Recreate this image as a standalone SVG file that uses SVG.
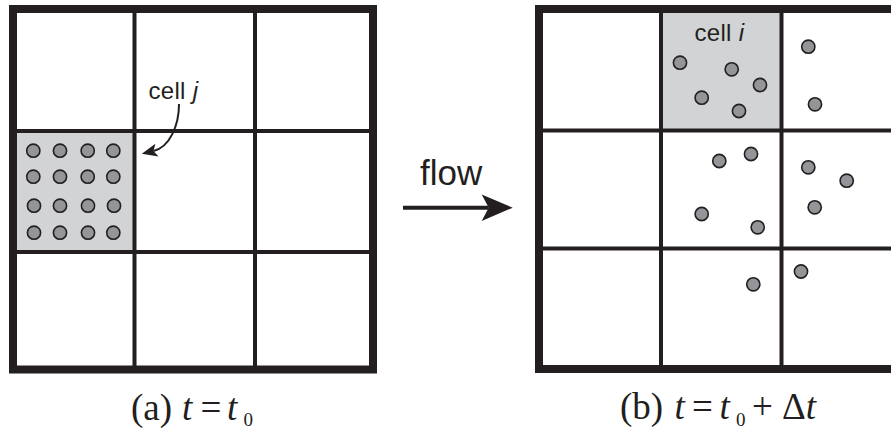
<svg xmlns="http://www.w3.org/2000/svg" width="891" height="429" viewBox="0 0 891 429">
<defs>
<style>
.frame{fill:none;stroke:#231f20;stroke-width:8}
.grid{stroke:#231f20;stroke-width:4;fill:none}
.shade{fill:#d1d3d4}
.dot{fill:#939598;stroke:#231f20;stroke-width:1.6}
.lbl{font-family:"Liberation Sans",Arial,sans-serif;fill:#231f20}
.cap{font-family:"Liberation Serif","Times New Roman",serif;fill:#231f20;font-size:37px}
.sub{font-size:19px}
.conn{fill:none;stroke:#231f20;marker-end:url(#head)}
</style>
<marker id="head" viewBox="-8 -4 8.5 8" refX="-6" refY="0" markerWidth="8.5" markerHeight="8" orient="auto" markerUnits="strokeWidth">
<path d="M0,0 L-7.75,-3.3 L-6,0 L-7.75,3.3 Z" fill="#231f20"/>
</marker>
</defs>
<rect width="891" height="429" fill="#fff"/>

<g id="grid-a">
<rect id="cell-j" class="shade" x="15" y="131" width="119.5" height="121"/>
<g id="cell-j-dots">
<circle class="dot" cx="33.3" cy="150.7" r="6.6"/>
<circle class="dot" cx="60" cy="150.7" r="6.6"/>
<circle class="dot" cx="87.7" cy="150.7" r="6.6"/>
<circle class="dot" cx="113.3" cy="150.7" r="6.6"/>
<circle class="dot" cx="33.3" cy="176.7" r="6.6"/>
<circle class="dot" cx="60" cy="176.7" r="6.6"/>
<circle class="dot" cx="87.7" cy="176.7" r="6.6"/>
<circle class="dot" cx="113.3" cy="176.7" r="6.6"/>
<circle class="dot" cx="34" cy="205.7" r="6.6"/>
<circle class="dot" cx="60" cy="205.7" r="6.6"/>
<circle class="dot" cx="88" cy="205.7" r="6.6"/>
<circle class="dot" cx="114" cy="205.7" r="6.6"/>
<circle class="dot" cx="34" cy="232.7" r="6.6"/>
<circle class="dot" cx="60" cy="232.7" r="6.6"/>
<circle class="dot" cx="88" cy="232.7" r="6.6"/>
<circle class="dot" cx="113.3" cy="232.7" r="6.6"/>
</g>
<path class="grid" d="M134.5,9 V369.5 M255,9 V369.5 M13,131 H373 M13,252 H373"/>
<rect class="frame" x="13" y="9" width="360" height="360.5"/>
</g>

<g id="grid-b">
<rect id="cell-i" class="shade" x="661" y="9" width="120.5" height="121.5"/>
<g id="dots-b">
<circle class="dot" cx="680" cy="62.7" r="6.6"/>
<circle class="dot" cx="731.7" cy="69.3" r="6.6"/>
<circle class="dot" cx="760" cy="85" r="6.6"/>
<circle class="dot" cx="701.7" cy="97.7" r="6.6"/>
<circle class="dot" cx="739" cy="111" r="6.6"/>
<circle class="dot" cx="808.3" cy="46.7" r="6.6"/>
<circle class="dot" cx="815" cy="104.3" r="6.6"/>
<circle class="dot" cx="719.3" cy="161" r="6.6"/>
<circle class="dot" cx="751" cy="154" r="6.6"/>
<circle class="dot" cx="808.3" cy="167.3" r="6.6"/>
<circle class="dot" cx="846.7" cy="180.7" r="6.6"/>
<circle class="dot" cx="814.7" cy="207.3" r="6.6"/>
<circle class="dot" cx="701.7" cy="214" r="6.6"/>
<circle class="dot" cx="757.7" cy="227.3" r="6.6"/>
<circle class="dot" cx="801" cy="271.5" r="6.6"/>
<circle class="dot" cx="753.3" cy="284.3" r="6.6"/>
</g>
<path class="grid" d="M661,9 V369 M781.5,9 V369 M539,130.5 H905 M539,248.5 H905"/>
<rect class="frame" x="539" y="9" width="365" height="360"/>
</g>

<g id="labels">
<text class="lbl" x="148.5" y="99" font-size="24" letter-spacing="0.3">cell <tspan font-style="italic">j</tspan></text>
<text class="lbl" x="694.5" y="40.7" font-size="24" letter-spacing="0.3">cell <tspan font-style="italic">i</tspan></text>
<text class="lbl" x="420" y="185" font-size="35">flow</text>
<text class="cap" y="419.5"><tspan x="131">(a)</tspan><tspan x="182" font-style="italic">t</tspan><tspan x="200.5">=</tspan><tspan x="227" font-style="italic">t</tspan><tspan class="sub" x="243.5" y="426">0</tspan></text>
<text class="cap" y="419"><tspan x="620">(b)</tspan><tspan x="674.5" font-style="italic">t</tspan><tspan x="692">=</tspan><tspan x="719.5" font-style="italic">t</tspan><tspan class="sub" x="736" y="426">0</tspan><tspan x="752" y="419">+</tspan><tspan x="782">Δ<tspan font-style="italic">t</tspan></tspan></text>
</g>

<g id="connectors">
<path class="conn" stroke-width="4" d="M403,207.7 H488.7"/>
<path class="conn" stroke-width="2" d="M179,104 C179,125 170,147 153.5,151"/>
</g>
</svg>
